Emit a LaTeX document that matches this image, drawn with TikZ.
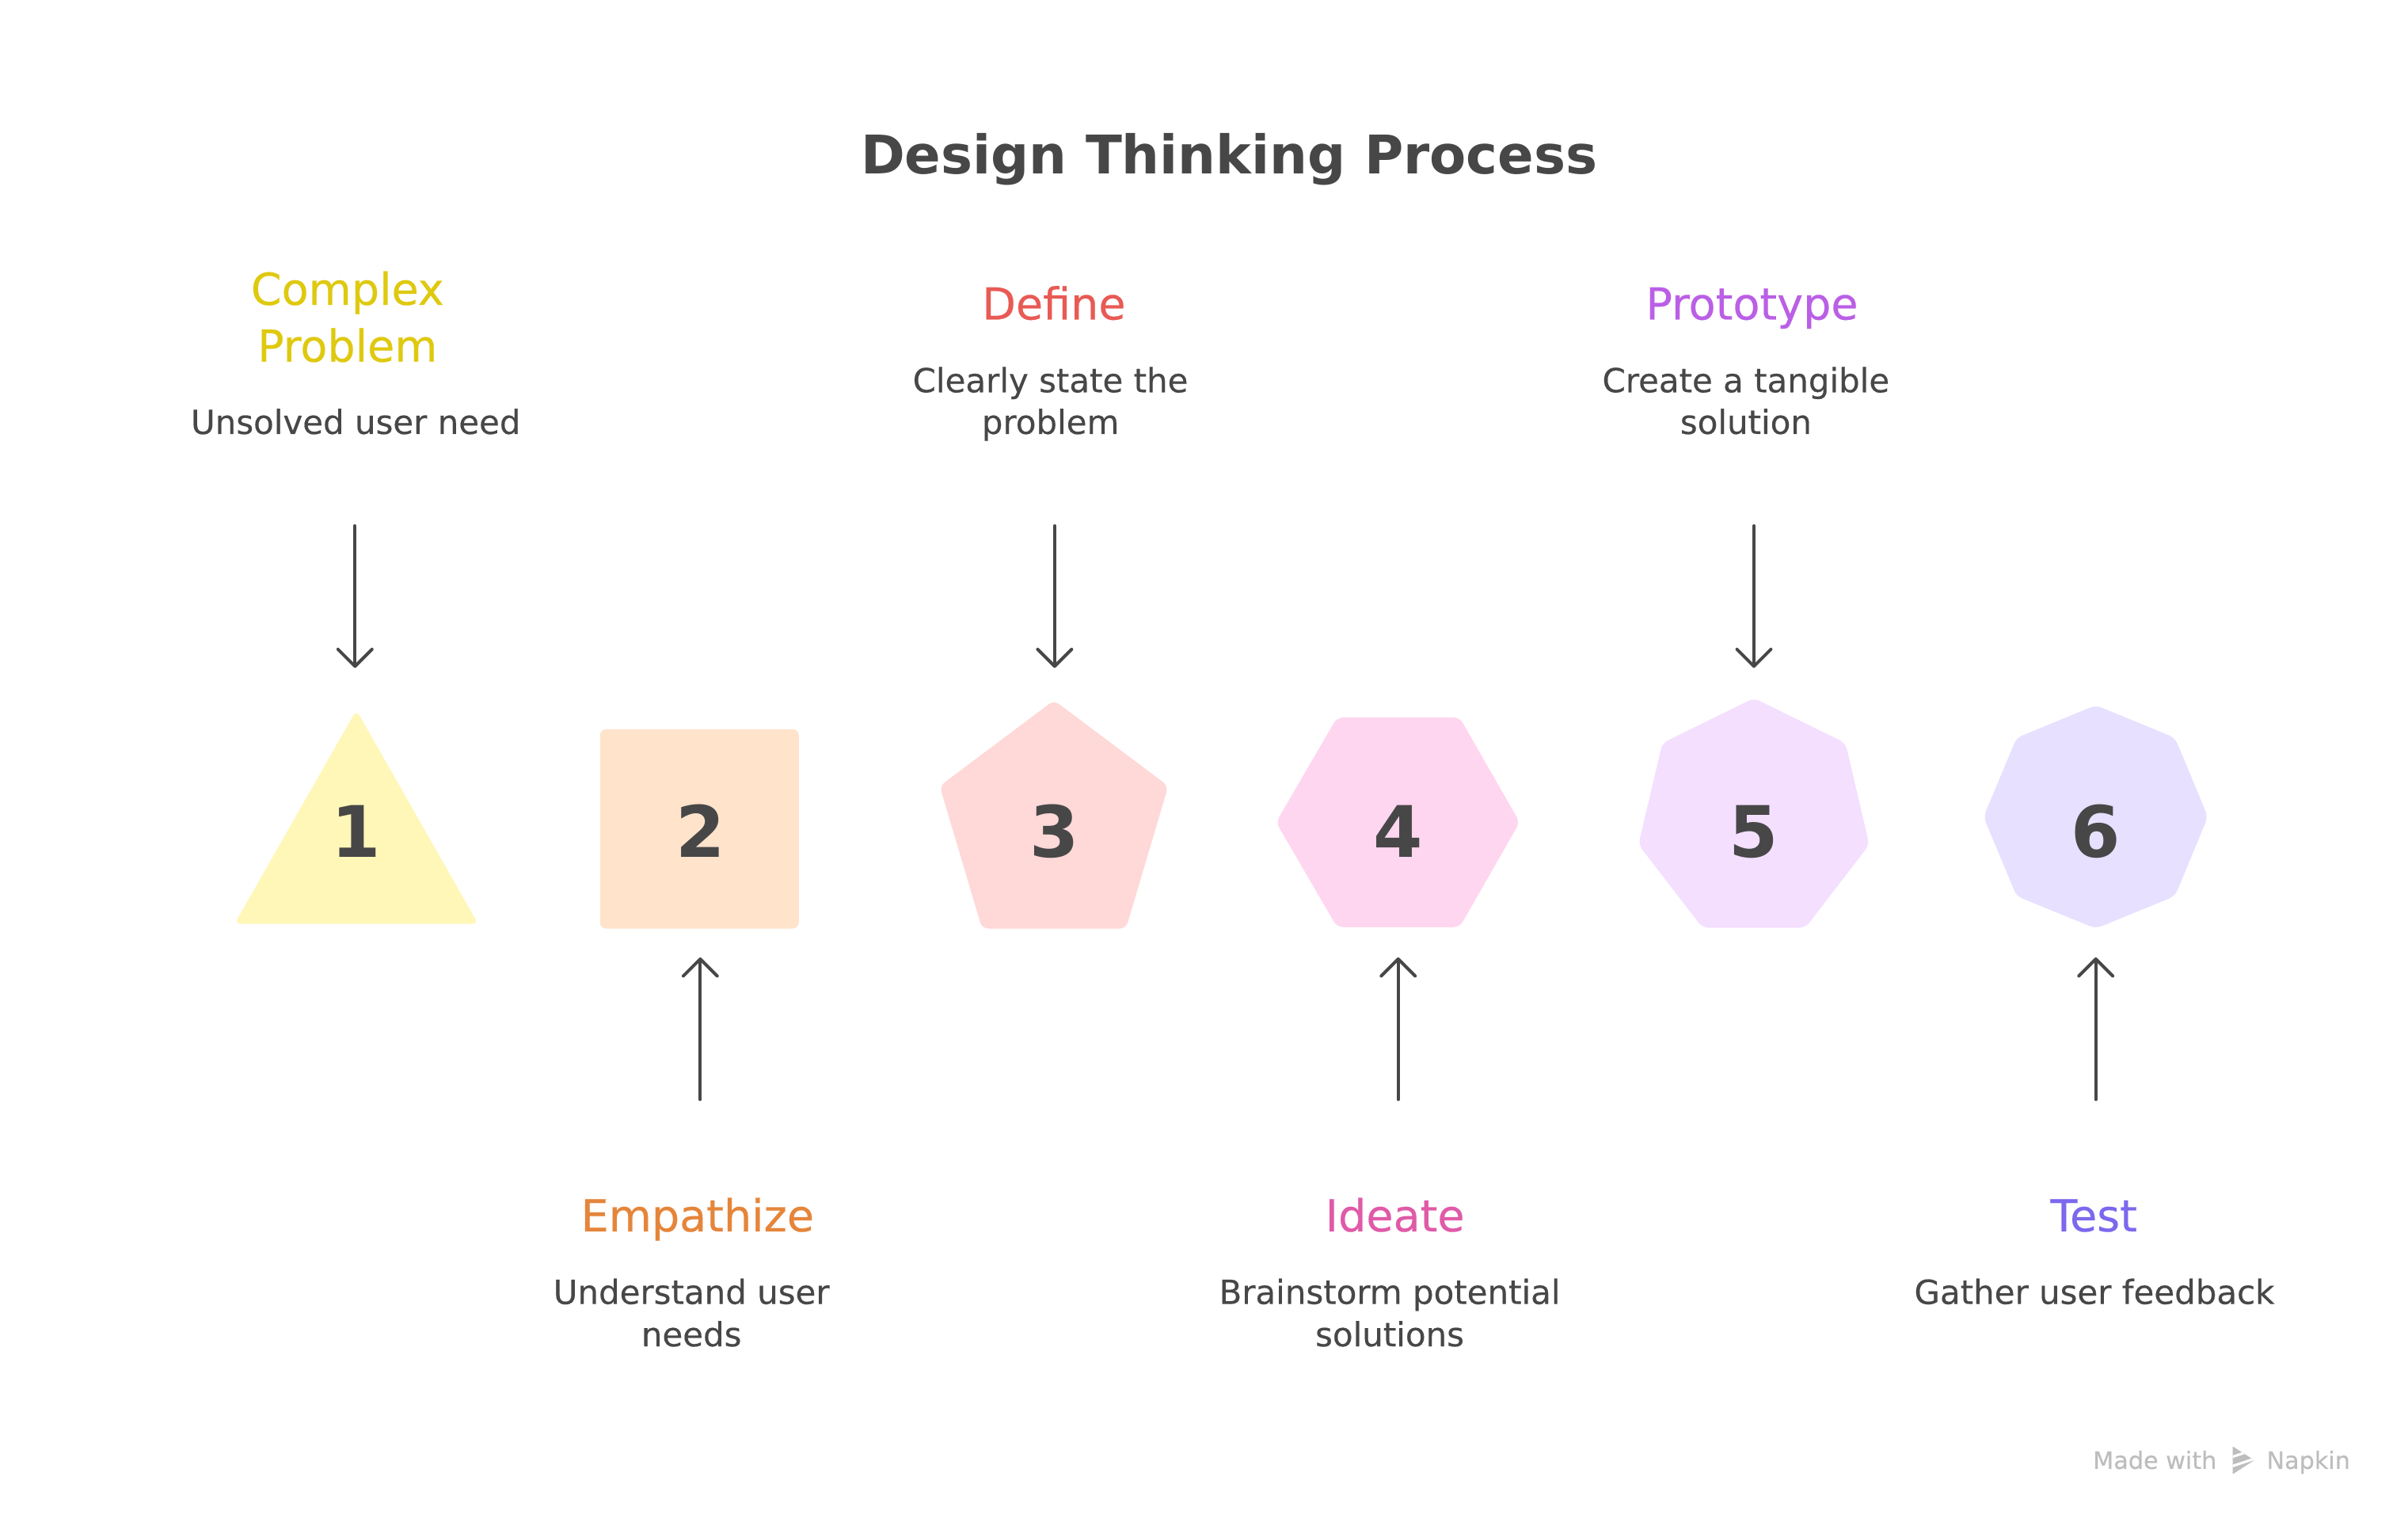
\documentclass[tikz,border=0pt]{standalone}
\usepackage{fontspec}
\setmainfont{DejaVu Sans}
\newfontfamily\medfont{DejaVu Sans}[FakeBold=0.35]
\usetikzlibrary{arrows.meta}
\definecolor{ink}{HTML}{474747}
\definecolor{cYel}{HTML}{DFC90F}
\definecolor{cOra}{HTML}{E5853A}
\definecolor{cRed}{HTML}{E85A54}
\definecolor{cPnk}{HTML}{E05AA8}
\definecolor{cPur}{HTML}{BA5FE6}
\definecolor{cBlu}{HTML}{7B68EE}
\definecolor{fYel}{HTML}{FFF7B8}
\definecolor{fOra}{HTML}{FFE3CB}
\definecolor{fRed}{HTML}{FFD8D8}
\definecolor{fPnk}{HTML}{FFD6EF}
\definecolor{fPur}{HTML}{F4DFFF}
\definecolor{fBlu}{HTML}{E7E0FF}
\definecolor{wm}{HTML}{BDBDBD}
\begin{document}
\begin{tikzpicture}[x=1pt,y=-1pt,
  every node/.style={inner sep=0pt, outer sep=0pt},
  ttl/.style={anchor=base, text=ink, font=\fontsize{34.5}{40}\selectfont\bfseries},
  head/.style={anchor=base, font=\medfont\fontsize{28.5}{33}\selectfont},
  desc/.style={anchor=base, text=ink, font=\medfont\fontsize{21.5}{27}\selectfont},
  num/.style={anchor=base, text=ink, font=\fontsize{46}{50}\selectfont\bfseries},
  shp/.style={rounded corners=4pt},
  arr/.style={draw=ink, line width=2.05pt, line cap=round, -{Straight Barb[length=11pt,width=22pt,round]}},
  wmtext/.style={anchor=base, text=wm, font=\medfont\fontsize{15.5}{18}\selectfont}
]
\fill[white] (0,0) rectangle (1559.5,988.2);
\useasboundingbox (0,0) rectangle (1559.5,988.2);

% title
\node[ttl] (title) at (796,112.8) {Design Thinking Process};

% shapes
\fill[fYel, shp] (230.8,459.8) -- (309.7,598.3) -- (151.9,598.3) -- cycle;
\fill[fOra, shp] (388.6,472.3) rectangle (517.4,601.3);
\fill[fRed, shp] (682.6,453.5) -- (756.6,509) -- (729.2,601.3) -- (636,601.3) -- (608.6,509) -- cycle;
\fill[fPnk, shp] (865.9,464.6) -- (945.3,464.6) -- (984.2,532.5) -- (945.3,600.4) -- (865.9,600.4) -- (826.4,532.5) -- cycle;
\fill[fPur, shp] (1135.9,452.1) -- (1195.2,481.2) -- (1210.6,547) -- (1169.2,600.8) -- (1102.6,600.8) -- (1061.1,547) -- (1076.6,481.2) -- cycle;
\fill[fBlu, shp] (1357.3,456.7) -- (1408.6,477.8) -- (1429.9,529) -- (1408.6,580.3) -- (1357.3,601.3) -- (1306,580.3) -- (1284.6,529) -- (1306,477.8) -- cycle;

% numbers
\node[num] (n1) at (230.5,555) {1};
\node[num] (n2) at (453.5,555) {2};
\node[num] (n3) at (683,555) {3};
\node[num] (n4) at (905.5,555) {4};
\node[num] (n5) at (1135.9,555) {5};
\node[num] (n6) at (1357.3,555) {6};

% top labels
\node[head, text=cYel] (h1a) at (225,197.4) {Complex};
\node[head, text=cYel] (h1b) at (225,234.2) {Problem};
\node[desc] (d1) at (230.4,281) {Unsolved user need};

\node[head, text=cRed] (h3) at (682.5,206.9) {Define};
\node[desc] (d3a) at (680.3,254) {Clearly state the};
\node[desc] (d3b) at (680.3,281) {problem};

\node[head, text=cPur] (h5) at (1134.6,206.9) {Prototype};
\node[desc] (d5a) at (1130.7,254) {Create a tangible};
\node[desc] (d5b) at (1130.7,281) {solution};

% bottom labels
\node[head, text=cOra] (h2) at (451.7,797.4) {Empathize};
\node[desc] (d2a) at (447.8,844.4) {Understand user};
\node[desc] (d2b) at (447.8,871.8) {needs};

\node[head, text=cPnk] (h4) at (903.4,797.4) {Ideate};
\node[desc] (d4a) at (900,844.4) {Brainstorm potential};
\node[desc] (d4b) at (900,871.8) {solutions};

\node[head, text=cBlu] (h6) at (1356,797.4) {Test};
\node[desc] (d6) at (1356.4,844.4) {Gather user feedback};

% arrows
\coordinate (a1s) at (229.9,340.5); \coordinate (a1e) at (229.9,432.5);
\coordinate (a3s) at (683,340.5);   \coordinate (a3e) at (683,432.5);
\coordinate (a5s) at (1135.9,340.5); \coordinate (a5e) at (1135.9,432.5);
\coordinate (a2s) at (453.5,712);   \coordinate (a2e) at (453.5,620);
\coordinate (a4s) at (905.5,712);   \coordinate (a4e) at (905.5,620);
\coordinate (a6s) at (1357.3,712);  \coordinate (a6e) at (1357.3,620);
\draw[arr] (a1s) -- (a1e);
\draw[arr] (a3s) -- (a3e);
\draw[arr] (a5s) -- (a5e);
\draw[arr] (a2s) -- (a2e);
\draw[arr] (a4s) -- (a4e);
\draw[arr] (a6s) -- (a6e);

% watermark
\node[wmtext, anchor=base west] (wm1) at (1355.5,951.2) {Made with};
\node[wmtext, anchor=base east] (wm2) at (1522,951.2) {Napkin};
\begin{scope}
  \clip (1446,936.7) -- (1460,945.6) -- (1446,954.6) -- cycle;
  \fill[wm] (1446,936.7) -- (1460,945.6) -- (1446,954.6) -- cycle;
  \draw[white, line width=1.6pt] (1444,944) -- (1462,938);
  \draw[white, line width=1.6pt] (1444,950) -- (1462,944);
  \draw[white, line width=1.6pt] (1444,956) -- (1462,950);
\end{scope}
\end{tikzpicture}
\end{document}
